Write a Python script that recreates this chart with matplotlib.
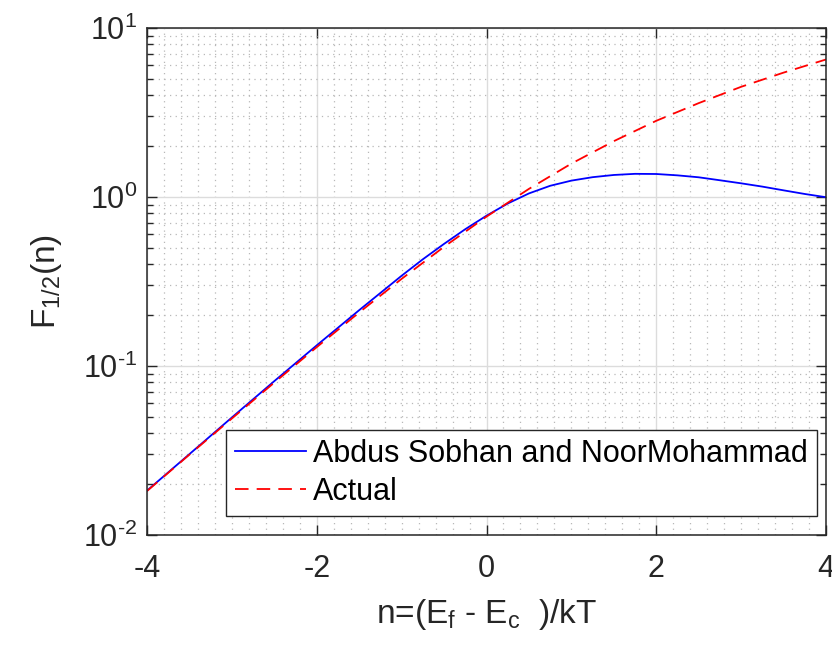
import numpy as np
import matplotlib
matplotlib.use('Agg')
from matplotlib import pyplot as plt
from matplotlib.ticker import LogLocator, NullFormatter, FixedLocator

plt.rcParams['font.family'] = ['Liberation Sans', 'DejaVu Sans']
plt.rcParams['mathtext.fontset'] = 'custom'
plt.rcParams['mathtext.rm'] = 'Liberation Sans'
plt.rcParams['mathtext.it'] = 'Liberation Sans:italic'
plt.rcParams['mathtext.bf'] = 'Liberation Sans:bold'

# values
eta_sobhan = [-4.0, -3.5, -3.0, -2.5, -2.0, -1.5, -1.0, -0.75, -0.5, -0.25, 0.0,
              0.25, 0.5, 0.75, 1.0, 1.25, 1.5, 1.75, 2.0, 2.25, 2.5, 2.75,
              3.0, 3.25, 3.5, 3.75, 4.0]
f_sobhan = [0.0183, 0.0301, 0.0496, 0.0814, 0.1325, 0.2140, 0.3420, 0.428, 0.528,
            0.645, 0.775, 0.915, 1.050, 1.165, 1.250, 1.310, 1.350, 1.371, 1.368,
            1.343, 1.308, 1.256, 1.205, 1.152, 1.095, 1.042, 0.997]

eta_actual = [-4.0, -3.5, -3.0, -2.5, -2.0, -1.5, -1.0, -0.5, 0.0, 0.5, 1.0,
              1.5, 2.0, 2.5, 3.0, 3.5, 4.0]
f_actual = [0.0182, 0.0299, 0.0489, 0.0798, 0.1293, 0.2074, 0.3278, 0.5075, 0.7651,
            1.117, 1.576, 2.14, 2.824, 3.593, 4.488, 5.445, 6.512]

x_ticks = [-4, -2, 0, 2, 4]
x_ticklabels = ['-4', '-2', '0', '2', '4']
y_ticks = [1e-2, 1e-1, 1e0, 1e1]
y_ticklabels = [r'10$^{\text{-2}}$', r'10$^{\text{-1}}$', r'10$^{0}$', r'10$^{1}$']

fig = plt.figure(figsize=(8.32, 6.52), dpi=100)
ax = fig.add_axes([147 / 832, 1 - 535 / 652, 679 / 832, 507 / 652])

ax.semilogy(eta_sobhan, f_sobhan, color='#0000ff', lw=1.3,
            label='Abdus Sobhan and NoorMohammad')
ax.semilogy(eta_actual, f_actual, color='#ff0000', lw=1.3, dashes=(7.5, 4.5),
            label='Actual')

ax.set_xlim(-4, 4)
ax.set_ylim(1e-2, 1e1)
ax.set_xticks(x_ticks)
ax.set_xticklabels(x_ticklabels)
ax.set_yticks(y_ticks)
ax.set_yticklabels(y_ticklabels)
ax.xaxis.set_minor_locator(FixedLocator(np.arange(-4, 4.01, 0.2)))
ax.yaxis.set_minor_locator(LogLocator(base=10, subs=np.arange(2, 10), numticks=20))
ax.yaxis.set_minor_formatter(NullFormatter())

ax.tick_params(which='both', direction='in', top=True, right=True,
               labelsize=22, colors='#262626', labelcolor='#262626')
ax.tick_params(which='major', length=7, width=1)
ax.tick_params(axis='x', which='major', pad=14)
ax.tick_params(axis='y', which='major', pad=7)
ax.tick_params(which='minor', length=4, width=1)
ax.tick_params(axis='x', which='minor', length=0)

ax.grid(True, which='major', color='#dcdcdc', lw=1.0, ls='-')
ax.grid(True, which='minor', color='#b8b8b8', lw=0.9, ls=(0, (1, 3.5)))
ax.set_axisbelow(True)
for sp in ax.spines.values():
    sp.set_color('#262626')
    sp.set_linewidth(1.1)

ax.set_xlabel(r'n=(E$_{\mathrm{f}}$ - E$_{\mathrm{c}}$  )/kT', fontsize=24,
              color='#262626', labelpad=9)
ax.set_ylabel(r'F$_{\mathrm{1/2}}$(n)', fontsize=24, color='#262626', labelpad=14)

leg = ax.legend(loc='lower right', bbox_to_anchor=(0.987, 0.0375), borderaxespad=0,
                fontsize=22, frameon=True, fancybox=False, framealpha=1,
                edgecolor='#262626', handlelength=2.3, handletextpad=0.25,
                borderpad=0.3, labelspacing=0.25)
leg.get_frame().set_linewidth(1.0)

fig.savefig('out.png', dpi=100)
